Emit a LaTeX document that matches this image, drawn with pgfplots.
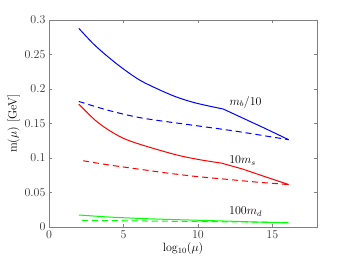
\documentclass[border=0pt]{standalone}
\usepackage{pgfplots}
\pgfplotsset{compat=1.18}
\begin{document}
\begin{tikzpicture}
\useasboundingbox (-49pt,-36pt) rectangle (301pt,227pt);
\begin{axis}[
  scale only axis, width=268pt, height=207pt,
  xmin=0, xmax=18, ymin=0, ymax=0.3,
  xtick={0,5,10,15}, ytick={0,0.05,0.1,0.15,0.2,0.25,0.3},
  yticklabels={0,0.05,0.1,0.15,0.2,0.25,0.3},
  tick align=inside, tick style={gray, thin}, axis line style={gray},
  major tick length=3pt,
  tick label style={font=\large, text=black!80},
  label style={font=\large},
  xlabel={$\log_{10}(\mu)$}, ylabel={m($\mu$) [GeV]},
  xlabel style={yshift=3pt}, ylabel style={yshift=-2pt},
  clip=false,
]
\addplot[blue, line width=1pt, smooth] coordinates {(2,0.288)(3,0.265)(4,0.246)(5,0.229)(6.25,0.211)(8.25,0.191)(9.8,0.180)(11.7,0.171)};
\addplot[blue, line width=1pt] coordinates {(11.7,0.171)(13,0.158)(14.5,0.143)(16.1,0.1265)};
\addplot[blue, line width=1pt, dash pattern=on 6pt off 4pt, smooth] coordinates {(2,0.182)(4,0.169)(6.23,0.158)(9.5,0.148)(12.5,0.139)(16.1,0.1265)};
\addplot[red, line width=1pt, smooth] coordinates {(2,0.178)(3.09,0.155)(4,0.1406)(5,0.1285)(6.23,0.119)(8.47,0.105)(10,0.098)(11.6,0.0925)};
\addplot[red, line width=1pt] coordinates {(11.6,0.0925)(13,0.084)(14.5,0.073)(16.1,0.0615)};
\addplot[red, line width=1pt, dash pattern=on 6pt off 4pt, smooth] coordinates {(2.3,0.096)(4,0.090)(6,0.084)(8,0.078)(10,0.073)(12,0.069)(14,0.065)(16.1,0.0615)};
\addplot[green, line width=1pt, smooth] coordinates {(2,0.0174)(4,0.0145)(6,0.0125)(8,0.011)(10,0.0098)(12,0.0085)(14,0.0072)(16.1,0.0058)};
\addplot[green, line width=1pt, dash pattern=on 6pt off 4pt] coordinates {(2.2,0.0098)(6,0.0088)(10,0.0080)(16.1,0.0066)};
\node[font=\large] at (axis cs:13.2,0.181) {$m_b/10$};
\node[font=\large] at (axis cs:13.0,0.0957) {$10m_s$};
\node[font=\large] at (axis cs:13.2,0.0217) {$100m_d$};
\end{axis}
\end{tikzpicture}
\end{document}
